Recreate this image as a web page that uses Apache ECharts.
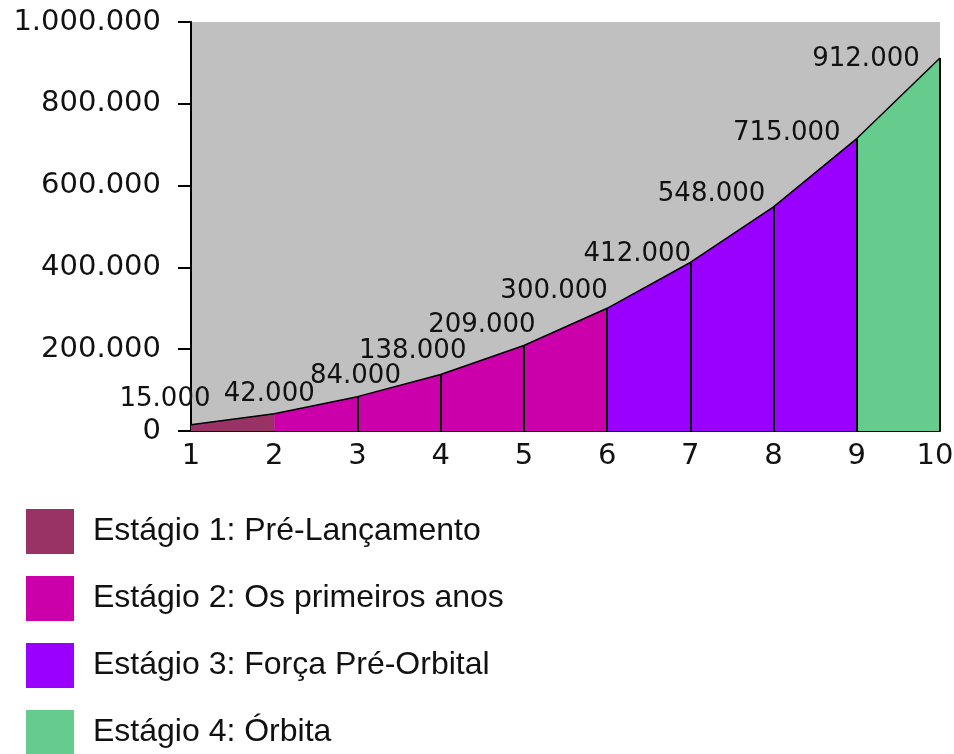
<!DOCTYPE html>
<html>
<head>
<meta charset="utf-8">
<script src="https://cdn.jsdelivr.net/npm/echarts@6/dist/echarts.min.js"></script>
<style>
  html, body { margin: 0; padding: 0; background: #fff; }
  #main { width: 954px; height: 754px; }
</style>
</head>
<body>
<div id="main"></div>
<script>
// values
var years = [1, 2, 3, 4, 5, 6, 7, 8, 9, 10];
var values = [15000, 42000, 84000, 138000, 209000, 300000, 412000, 548000, 715000, 912000];
var stageNames = [
  "Estágio 1: Pré-Lançamento",
  "Estágio 2: Os primeiros anos",
  "Estágio 3: Força Pré-Orbital",
  "Estágio 4: Órbita"
];
// first and last year of each stage
var stageRanges = [[1, 2], [2, 6], [6, 9], [9, 10]];
var yTicks = [0, 200000, 400000, 600000, 800000, 1000000];
// years that get a vertical black divider
var dividerYears = [3, 4, 5, 6, 7, 8, 9, 10];

var stageColors = ["#993366", "#CC00AA", "#9900FF", "#66CC8E"];
// label shift relative to 'top' placement (style only)
var labelOffsets = [[-26, -12], [-5, -6], [-2, -7], [-28, -10], [-42, -7],
  [-53, -4], [-53, 5], [-62, 1], [-70, 8], [-74, 15]];

function fmt(v) {
  return String(v).replace(/\B(?=(\d{3})+(?!\d))/g, ".");
}

var font = "Liberation Sans, Arial, sans-serif";
var wideFont = "DejaVu Sans, sans-serif";

var series = stageNames.map(function(name, s) {
  var r = stageRanges[s];
  var pts = [];
  years.forEach(function(x, i) {
    if (x >= r[0] && x <= r[1]) pts.push([x, values[i]]);
  });
  return {
    name: name,
    type: "line",
    data: pts,
    showSymbol: false,
    silent: true,
    color: stageColors[s],
    itemStyle: { color: stageColors[s] },
    lineStyle: { width: 0, color: stageColors[s] },
    areaStyle: { color: stageColors[s], opacity: 1 },
    z: 2
  };
});

var dividerLines = dividerYears.map(function(x) {
  var v = values[years.indexOf(x)];
  return [{ coord: [x, 0] }, { coord: [x, v] }];
});

series.push({
  name: "curve",
  type: "line",
  data: years.map(function(x, i) {
    return {
      value: [x, values[i]],
      label: { offset: labelOffsets[i] }
    };
  }),
  showSymbol: true,
  showAllSymbol: true,
  symbol: "circle",
  symbolSize: 1,
  itemStyle: { color: "rgba(0,0,0,0)", borderWidth: 0 },
  silent: true,
  lineStyle: { color: "#000", width: 1.5 },
  label: {
    show: true,
    position: "top",
    distance: 0,
    color: "#111",
    fontFamily: wideFont,
    fontSize: 26,
    formatter: function(p) { return fmt(p.value[1]); }
  },
  markLine: {
    silent: true,
    symbol: "none",
    label: { show: false },
    lineStyle: { color: "#000", width: 2, type: "solid" },
    data: dividerLines
  },
  z: 3
});

var option = {
  animation: false,
  backgroundColor: "#fff",
  grid: {
    left: 191,
    right: 14,
    top: 22,
    bottom: 323,
    outerBoundsMode: "none",
    show: true,
    backgroundColor: "#C0C0C0",
    borderWidth: 0
  },
  legend: {
    data: stageNames,
    orient: "vertical",
    left: 26,
    top: 509,
    height: 400,
    padding: 0,
    itemWidth: 48,
    itemHeight: 45,
    itemGap: 22,
    icon: "rect",
    selectedMode: false,
    textStyle: {
      color: "#111",
      fontFamily: font,
      fontSize: 32,
      padding: [8, 0, 0, 14]
    }
  },
  xAxis: {
    type: "value",
    min: 1,
    max: 10,
    interval: 1,
    splitLine: { show: false },
    axisTick: { show: false },
    axisLine: { lineStyle: { color: "#000", width: 2 } },
    axisLabel: {
      color: "#111",
      fontFamily: wideFont,
      fontSize: 29,
      margin: 11,
      showMaxLabel: true,
      formatter: function(v) {
        return v === years[years.length - 1] ? "{last|" + v + "}" : String(v);
      },
      rich: {
        last: { fontFamily: wideFont, fontSize: 29, color: "#111", padding: [0, 10, 0, 0] }
      }
    }
  },
  yAxis: {
    type: "value",
    min: yTicks[0],
    max: yTicks[yTicks.length - 1],
    interval: yTicks[1] - yTicks[0],
    splitLine: { show: false },
    axisLine: { show: true, lineStyle: { color: "#000", width: 2 } },
    axisTick: { show: true, length: 13, lineStyle: { color: "#000", width: 2 } },
    axisLabel: {
      color: "#111",
      fontFamily: wideFont,
      fontSize: 29,
      margin: 30,
      formatter: fmt
    }
  },
  series: series
};

var chart = echarts.init(document.getElementById("main"));
chart.setOption(option);
</script>
</body>
</html>
